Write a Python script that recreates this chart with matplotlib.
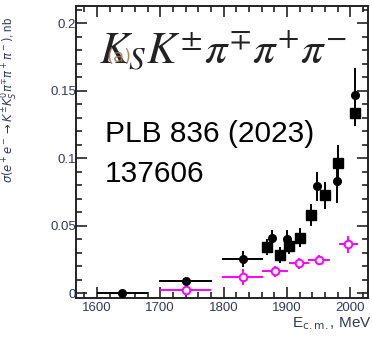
import matplotlib
matplotlib.use("Agg")
import matplotlib.pyplot as plt
from matplotlib.ticker import MultipleLocator, FixedLocator, FixedFormatter

# Black filled circles
circ_E = [1640, 1740, 1830, 1877, 1900, 1948, 1979, 2008]
circ_s = [0.0, 0.009, 0.025, 0.041, 0.040, 0.079, 0.083, 0.147]
circ_xerr = [40, 42, 32, 0, 0, 0, 0, 0]
circ_yerr = [0.001, 0.003, 0.006, 0.006, 0.007, 0.011, 0.016, 0.020]

# Black filled squares
sq_E = [1868, 1889, 1904, 1921, 1938, 1960, 1981, 2008]
sq_s = [0.034, 0.028, 0.035, 0.041, 0.058, 0.0725, 0.0965, 0.133]
sq_yerr = [0.006, 0.006, 0.006, 0.007, 0.008, 0.010, 0.013, 0.009]

# Magenta open circles
mg_E = [1740, 1830, 1881, 1919, 1951, 1997]
mg_s = [0.002, 0.012, 0.016, 0.022, 0.0245, 0.036]
mg_xerr = [40, 32, 20, 16, 17, 15]
mg_yerr = [0.001, 0.006, 0.004, 0.004, 0.004, 0.006]

xticks = [1600, 1700, 1800, 1900, 2000]
yticks = [0, 0.05, 0.1, 0.15, 0.2]
ytick_labels = ["0", "0.05", "0.1", "0.15", "0.2"]

W, H = 372, 337
fig = plt.figure(figsize=(W / 100, H / 100), dpi=100)
ax = fig.add_axes([76 / W, 1 - 298 / H, (368 - 76) / W, (298 - 6) / H])

ax.errorbar(circ_E, circ_s, xerr=circ_xerr, yerr=circ_yerr, fmt='o', color='black',
            ms=5.5, elinewidth=1.4, capsize=0, zorder=3)
ax.errorbar(sq_E, sq_s, yerr=sq_yerr, fmt='s', color='black',
            ms=7, elinewidth=1.4, capsize=0, zorder=3)
ax.errorbar(mg_E, mg_s, xerr=mg_xerr, yerr=mg_yerr, fmt='o', color='#ff00ff',
            mfc='white', mec='#ff00ff', mew=1.4, ms=5.5, elinewidth=1.4, capsize=0, zorder=2)

ax.set_xlim(1567, 2028)
ax.set_ylim(-0.0037, 0.2126)

tick_col = '#34395a'
ax.xaxis.set_major_locator(FixedLocator(xticks))
ax.xaxis.set_minor_locator(MultipleLocator(20))
ax.yaxis.set_major_locator(FixedLocator(yticks))
ax.yaxis.set_major_formatter(FixedFormatter(ytick_labels))
ax.yaxis.set_minor_locator(MultipleLocator(0.01))
ax.tick_params(which='both', direction='in', top=True, right=True, colors='#222222',
               labelcolor=tick_col, labelsize=9.5, width=1.2)
ax.tick_params(which='major', length=8)
ax.tick_params(which='minor', length=4.5)
ax.tick_params(axis='y', pad=0)
ax.tick_params(axis='x', pad=3)
for lab in ax.get_xticklabels() + ax.get_yticklabels():
    lab.set_fontfamily('Liberation Sans')
for s in ax.spines.values():
    s.set_linewidth(1.4)
    s.set_color('#222222')

# Axis labels
fig.text(1.0, 1 - 327 / H, r'E$_{\rm c.m.}$, MeV', ha='right', va='baseline',
         fontsize=11, color=tick_col, family='Liberation Sans')
fig.text(10 / W, 1 - 100 / H, r'$\sigma(e^+e^-\to K^{\pm}K^0_S\pi^{\mp}\pi^+\pi^-)$, nb',
         rotation=90, ha='center', va='center', fontsize=8.3, color=tick_col,
         family='Liberation Sans', math_fontfamily='dejavusans')

# Big formula
fig.text(99 / W, 1 - 63 / H, r'$K_S K^{\pm}\pi^{\mp}\pi^{+}\pi^{-}$', ha='left',
         va='baseline', fontsize=32, color='#222222', math_fontfamily='stix')
fig.text(106 / W, 1 - 62 / H, '(a)', ha='left', va='baseline', fontsize=13,
         color='#a07850', alpha=0.85, family='DejaVu Sans')

# Reference text
fig.text(105 / W, 1 - 142 / H, 'PLB 836 (2023)', ha='left', va='baseline', fontsize=21.5,
         color='black', family='Liberation Sans')
fig.text(105 / W, 1 - 182 / H, '137606', ha='left', va='baseline', fontsize=21.5,
         color='black', family='Liberation Sans')

fig.savefig('out.png', dpi=100)
